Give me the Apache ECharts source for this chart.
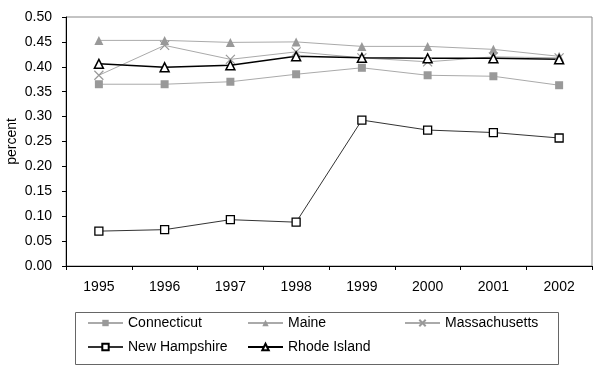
<!DOCTYPE html>
<html><head><meta charset="utf-8">
<script src="https://cdn.jsdelivr.net/npm/echarts@6/dist/echarts.min.js"></script>
<style>html,body{margin:0;padding:0;background:#fff}#c{width:600px;height:373px}</style>
</head><body><div id="c"></div>
<script>
const years = ['1995','1996','1997','1998','1999','2000','2001','2002'];
const connecticut = [0.365,0.365,0.370,0.385,0.398,0.383,0.381,0.363];
const maine = [0.453,0.453,0.449,0.450,0.441,0.441,0.435,0.421];
const massachusetts = [0.383,0.443,0.415,0.430,0.418,0.410,0.420,0.418];
const newHampshire = [0.070,0.073,0.093,0.088,0.293,0.273,0.268,0.257];
const rhodeIsland = [0.406,0.399,0.403,0.421,0.418,0.417,0.417,0.415];
const yTicks = ['0.00','0.05','0.10','0.15','0.20','0.25','0.30','0.35','0.40','0.45','0.50'];

const FONT = 'Liberation Sans';
const chart = echarts.init(document.getElementById('c'));
const xPath = 'path://M0,0L10,10M10,0L0,10';
const legendText = {fontFamily: FONT, fontSize: 14, color: '#000'};
function lg(name, left, top){
  return {data:[name], left:left, top:top, orient:'horizontal', itemWidth:35, itemHeight:8, itemGap:3,
    textStyle: legendText, selectedMode:false, padding:0};
}
chart.setOption({
  animation:false,
  backgroundColor:'#fff',
  grid:{left:66, right:8, top:17, bottom:107, outerBoundsMode:'none', containLabel:false,
    show:true, borderColor:'#888', borderWidth:1, backgroundColor:'transparent'},
  xAxis:{type:'category', data:years, boundaryGap:true,
    axisLine:{lineStyle:{color:'#000', width:1}},
    axisTick:{show:true, inside:false, length:4, lineStyle:{color:'#000'}},
    axisLabel:{fontFamily:FONT, fontSize:14, color:'#000', margin:14},
    splitLine:{show:false}},
  yAxis:{type:'value', min:0, max:0.5, interval:0.05,
    name:'percent', nameLocation:'middle', nameGap:47, nameRotate:90, nameMoveOverlap:false,
    nameTextStyle:{fontFamily:FONT, fontSize:14, color:'#000'},
    axisLine:{show:true, lineStyle:{color:'#000'}},
    axisTick:{show:true, length:4, lineStyle:{color:'#000'}},
    axisLabel:{fontFamily:FONT, fontSize:14, color:'#000', margin:14,
      formatter:(v,i)=>yTicks[Math.round(v/0.05)]},
    splitLine:{show:false}},
  legend:[
    lg('Connecticut', 87, 316),
    lg('Maine', 247, 316),
    lg('Massachusetts', 404, 316),
    lg('New Hampshire', 87, 340),
    lg('Rhode Island', 247, 340)
  ],
  graphic:[{type:'rect', shape:{x:75.5, y:312.5, width:483, height:52}, style:{fill:'none', stroke:'#666', lineWidth:1}}],
  series:[
    {name:'Connecticut', type:'line', data:connecticut, symbol:'rect', symbolSize:8,
      color:'#999', lineStyle:{color:'#aaa', width:1}, itemStyle:{color:'#999'}},
    {name:'Maine', type:'line', data:maine, symbol:'triangle', symbolSize:9,
      color:'#999', lineStyle:{color:'#aaa', width:1}, itemStyle:{color:'#999'}},
    {name:'Massachusetts', type:'line', data:massachusetts, symbol:xPath, symbolSize:9,
      color:'#999', lineStyle:{color:'#aaa', width:1}, itemStyle:{color:'none', borderColor:'#999', borderWidth:1.2}},
    {name:'New Hampshire', type:'line', data:newHampshire, symbol:'rect', symbolSize:8,
      color:'#222', lineStyle:{color:'#333', width:1}, itemStyle:{color:'#fff', borderColor:'#000', borderWidth:1.3}},
    {name:'Rhode Island', type:'line', data:rhodeIsland, symbol:'triangle', symbolSize:9,
      color:'#000', lineStyle:{color:'#000', width:1.5}, itemStyle:{color:'#fff', borderColor:'#000', borderWidth:1.5}}
  ]
});
</script></body></html>
